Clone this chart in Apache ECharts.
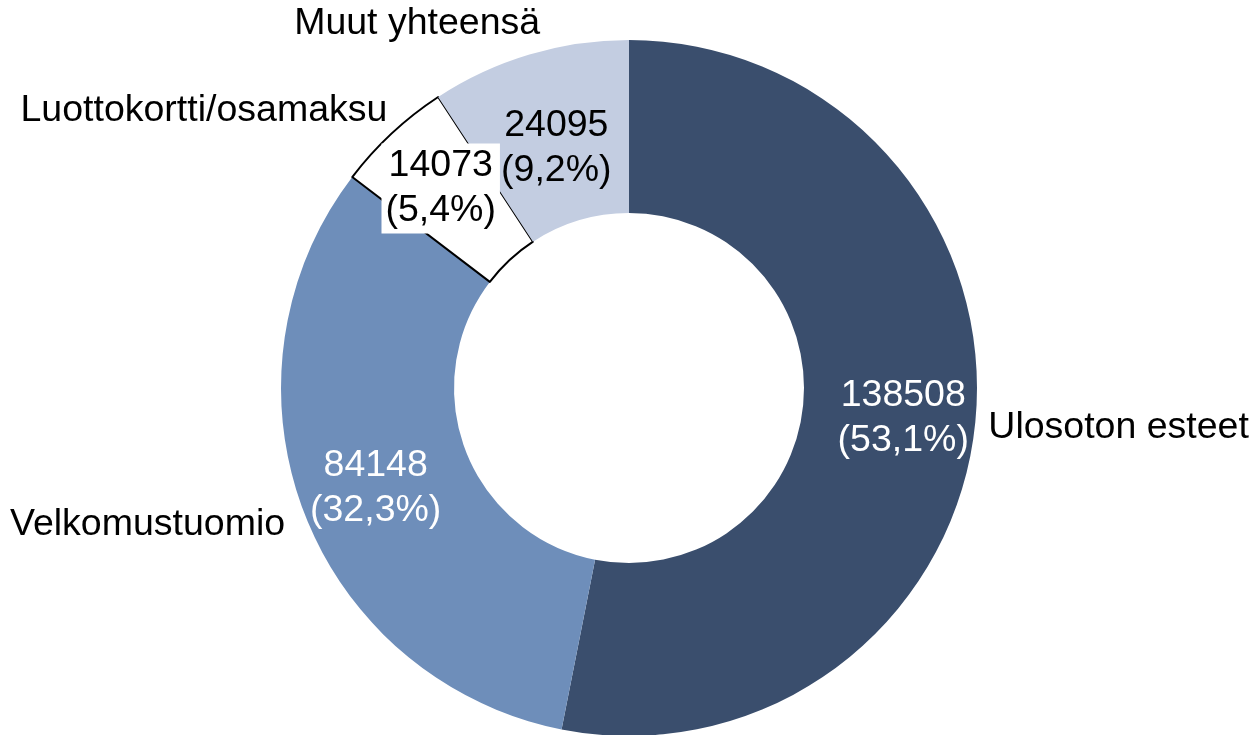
<!DOCTYPE html>
<html>
<head>
<meta charset="utf-8">
<script src="https://cdn.jsdelivr.net/npm/echarts@6/dist/echarts.min.js"></script>
<style>
    html, body {margin: 0; padding: 0; background: #fff;}
    #chart {width: 1256px; height: 735px;}
</style>
</head>
<body>
<div id="chart"></div>
<script>
const categories = ['Ulosoton esteet', 'Velkomustuomio', 'Luottokortti/osamaksu', 'Muut yhteensä'];
const counts = [138508, 84148, 14073, 24095];

const sliceColors = ['#3a4e6d', '#6e8eba', '#ffffff', '#c3cde1'];
const valueTextColors = ['#ffffff', '#ffffff', '#000000', '#000000'];

renderChart();

function renderChart() {
    let chart = echarts.init(document.getElementById('chart'));
    const font = '"Liberation Sans", Arial, sans-serif';

    //内圈数值标签
    let valueData = [];
    for (let i = 0; i < categories.length; i++) {
        let item = {
            name: categories[i],
            value: counts[i],
            itemStyle: {
                color: sliceColors[i],
                borderColor: i === 2 ? '#000' : 'transparent',
                borderWidth: i === 2 ? 2 : 0
            },
            label: {color: valueTextColors[i]}
        };
        if (i === 2) {
            item.label.backgroundColor = '#fff';
            item.label.padding = [0, 4];
        }
        valueData.push(item);
    }

    //外侧名称标签（透明扇区）
    let nameData = [];
    for (let i = 0; i < categories.length; i++) {
        nameData.push({name: categories[i], value: counts[i]});
    }

    // 标签微调
    const valueShift = [[11, 4], [-6, 6], [-8, -6], [3, 14]];
    const nameShift = [[0, 5], [-6, 11], [6, -17], [18, -23]];

    let option = {
        animation: false,
        series: [{
            type: 'pie',
            center: [629, 388],
            radius: [175, 348],
            startAngle: 90,
            percentPrecision: 1,
            silent: true,
            data: valueData,
            label: {
                position: 'inside',
                fontFamily: font,
                fontSize: 37.5,
                lineHeight: 45,
                formatter: function (p) {
                    return p.value + '\n(' + p.percent.toFixed(1).replace('.', ',') + '%)';
                }
            },
            labelLayout: function (p) {
                return {dx: valueShift[p.dataIndex][0], dy: valueShift[p.dataIndex][1]};
            },
            emphasis: {disabled: true}
        }, {
            type: 'pie',
            center: [629, 388],
            radius: [175, 348],
            startAngle: 90,
            silent: true,
            avoidLabelOverlap: false,
            z: 3,
            data: nameData,
            itemStyle: {color: 'transparent'},
            label: {
                position: 'outside',
                fontFamily: font,
                fontSize: 37.5,
                color: '#000',
                overflow: 'none',
                bleedMargin: 0,
                distanceToLabelLine: 5,
                formatter: '{b}'
            },
            labelLine: {show: false, length: 8, length2: 0},
            labelLayout: function (p) {
                return {dx: nameShift[p.dataIndex][0], dy: nameShift[p.dataIndex][1]};
            },
            emphasis: {disabled: true}
        }]
    };

    chart.setOption(option);
}
</script>
</body>
</html>
